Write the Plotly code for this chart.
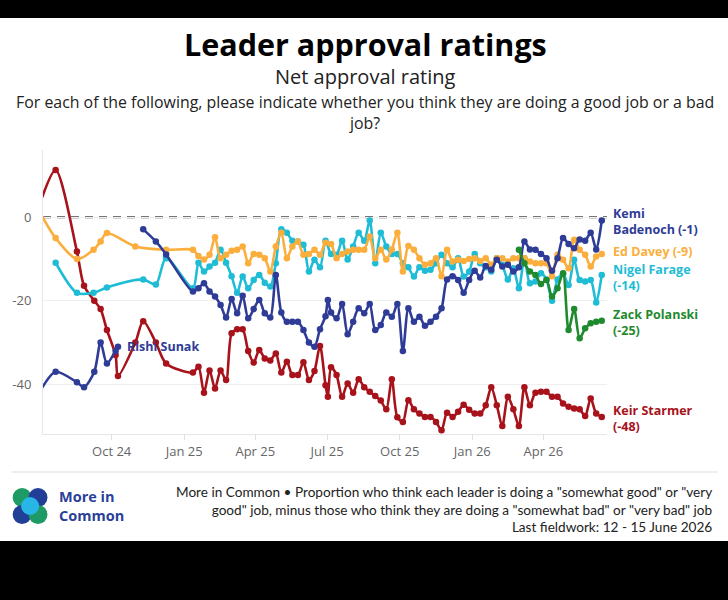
import plotly.graph_objects as go

# ---------------- data ----------------
weekly_dates = [
    "2025-01-12", "2025-01-19", "2025-01-26", "2025-02-02", "2025-02-09", "2025-02-16", "2025-02-23",
    "2025-03-02", "2025-03-09", "2025-03-16", "2025-03-23", "2025-03-30", "2025-04-06", "2025-04-13",
    "2025-04-20", "2025-04-27", "2025-05-04", "2025-05-11", "2025-05-18", "2025-05-25", "2025-06-01",
    "2025-06-08", "2025-06-15", "2025-06-22", "2025-06-29", "2025-07-06", "2025-07-13", "2025-07-20",
    "2025-07-27", "2025-08-03", "2025-08-10", "2025-08-17", "2025-08-24", "2025-08-31", "2025-09-07",
    "2025-09-14", "2025-09-21", "2025-09-28", "2025-10-05", "2025-10-12", "2025-10-19", "2025-10-26",
    "2025-11-02", "2025-11-09", "2025-11-16", "2025-11-23", "2025-11-30", "2025-12-07", "2025-12-14",
    "2025-12-21", "2025-12-28", "2026-01-04", "2026-01-11", "2026-01-18", "2026-01-25", "2026-02-01",
    "2026-02-08", "2026-02-15", "2026-02-22", "2026-03-01", "2026-03-08", "2026-03-15", "2026-03-22",
    "2026-03-29", "2026-04-05", "2026-04-12", "2026-04-19", "2026-04-26", "2026-05-03", "2026-05-10",
    "2026-05-17", "2026-05-24", "2026-05-31", "2026-06-07", "2026-06-14",
]

# Keir Starmer
starmer_early_dates = ["2024-07-05", "2024-07-22", "2024-08-18", "2024-08-27", "2024-09-09", "2024-09-17",
                       "2024-09-25", "2024-10-06", "2024-10-09", "2024-10-31", "2024-11-10", "2024-11-26",
                       "2024-12-09"]
starmer_early = [4.8, 11.3, -8.2, -16.4, -20.0, -22.0, -27.0, -33.0, -38.0, -30.0, -24.9, -30.0, -35.0]
starmer_weekly = [
    -37.2, -35.8, -42.0, -36.7, -41.0, -36.7, -39.0, -27.8, -26.8, -26.8,
    -32.0, -34.8, -31.8, -33.8, -34.3, -32.6, -37.2, -34.6, -37.8, -37.8,
    -34.7, -39.0, -36.8, -30.8, -40.2, -35.9, -37.8, -43.0, -39.8, -42.0,
    -38.8, -40.7, -41.8, -42.8, -43.9, -46.0, -38.8, -47.9, -49.0, -43.8,
    -46.0, -47.0, -47.8, -47.8, -49.0, -51.0, -46.8, -47.8, -46.6, -44.9,
    -46.1, -47.0, -47.0, -45.0, -40.7, -45.0, -50.0, -43.0, -46.0, -50.0,
    -40.7, -45.0, -42.0, -41.8, -41.8, -43.0, -43.0, -44.6, -45.4, -45.8,
    -46.0, -47.6, -43.4, -47.0, -47.8,
]
starmer_extra_dates = ["2025-07-02"]
starmer_extra = [-43.0]

# Rishi Sunak
sunak_dates = ["2024-07-05", "2024-07-22", "2024-08-18", "2024-08-27", "2024-09-09", "2024-09-17",
               "2024-09-25", "2024-10-06", "2024-10-09"]
sunak = [-40.8, -37.0, -39.5, -40.7, -37.0, -30.0, -35.0, -32.0, -31.0]

# Kemi Badenoch
badenoch_early_dates = ["2024-11-10", "2024-11-26", "2024-12-09"]
badenoch_early = [-2.9, -5.8, -8.9]
badenoch_weekly = [
    -17.8, -17.0, -15.8, -17.8, -19.0, -21.0, -24.0, -19.6, -23.0, -18.8,
    -24.2, -22.0, -19.8, -23.0, -24.0, -13.8, -22.8, -25.0, -25.0, -25.0,
    -27.0, -30.0, -31.0, -26.8, -23.7, -22.8, -24.2, -20.8, -28.0, -25.0,
    -21.8, -23.0, -20.8, -27.0, -25.8, -22.8, -23.8, -20.8, -32.0, -21.8,
    -25.0, -23.8, -26.0, -25.0, -23.8, -21.8, -14.9, -14.1, -15.0, -18.1,
    -15.0, -12.8, -14.4, -11.7, -12.6, -10.2, -11.8, -11.4, -13.0, -12.0,
    -5.8, -7.7, -7.8, -8.8, -9.8, -12.8, -9.8, -5.0, -6.4, -7.4,
    -5.3, -5.6, -3.7, -7.7, -0.8,
]
badenoch_extra_dates = ["2025-07-02"]
badenoch_extra = [-19.8]

# Ed Davey
davey_early_dates = ["2024-07-05", "2024-07-22", "2024-08-18", "2024-09-08", "2024-09-17", "2024-09-25",
                     "2024-10-31", "2024-12-09"]
davey_early = [0.2, -5.0, -10.0, -7.8, -5.8, -3.8, -7.0, -7.8]
davey_weekly = [
    -7.8, -9.3, -10.1, -9.0, -4.8, -9.8, -9.0, -8.0, -7.8, -7.0,
    -11.0, -8.8, -9.0, -9.8, -13.0, -7.0, -3.7, -9.8, -7.0, -5.8,
    -9.0, -8.8, -7.8, -9.0, -6.1, -6.4, -9.8, -8.8, -8.2, -7.8,
    -7.8, -7.8, -4.6, -9.8, -7.8, -10.1, -7.7, -3.7, -13.0, -6.9,
    -7.8, -9.8, -11.4, -11.0, -9.8, -14.1, -7.8, -10.6, -10.2, -10.5,
    -10.0, -9.8, -10.5, -9.8, -11.4, -9.8, -9.8, -10.6, -9.8, -9.8,
    -9.8, -10.6, -11.0, -11.0, -11.0, -14.1, -9.0, -10.2, -12.2, -5.4,
    -7.8, -9.0, -11.8, -9.4, -8.8,
]

# Nigel Farage
farage_early_dates = ["2024-07-22", "2024-08-18", "2024-09-08", "2024-09-25", "2024-11-10", "2024-11-26",
                      "2024-12-09"]
farage_early = [-10.9, -18.1, -18.1, -16.8, -14.9, -16.1, -9.8]
farage_weekly = [
    -17.0, -10.9, -13.0, -11.8, -10.9, -7.8, -10.9, -14.1, -18.1, -14.2,
    -17.0, -15.0, -13.8, -15.7, -16.6, -11.0, -2.9, -3.7, -5.6, -5.8,
    -6.6, -13.0, -10.2, -12.0, -5.6, -8.8, -9.0, -5.6, -10.1, -7.0,
    -3.7, -5.6, -0.8, -11.0, -3.7, -7.0, -8.8, -8.8, -11.0, -12.0,
    -14.2, -12.0, -12.8, -12.6, -11.0, -9.0, -11.0, -12.0, -9.8, -14.2,
    -13.0, -8.8, -11.0, -12.0, -13.0, -9.8, -11.4, -14.9, -12.2, -17.0,
    -9.8, -15.8, -15.4, -13.4, -14.9, -20.0, -14.9, -13.6, -16.2, -10.2,
    -15.0, -15.4, -15.0, -20.4, -13.8,
]

# Zack Polanski
polanski_dates = ["2026-03-01", "2026-03-08", "2026-03-15", "2026-03-22", "2026-03-29", "2026-04-05",
                  "2026-04-12", "2026-04-19", "2026-04-26", "2026-05-03", "2026-05-10", "2026-05-17",
                  "2026-05-24", "2026-05-31", "2026-06-07", "2026-06-14"]
polanski = [-7.8, -11.0, -13.0, -13.8, -16.0, -15.0, -19.0, -17.0, -13.4, -27.0, -22.0, -29.0,
            -26.6, -25.4, -25.0, -24.8]

# ---------------- styling ----------------
RED = "#A8121B"
NAVY = "#2E3C97"
ORANGE = "#FBAE3C"
CYAN = "#1FBCD6"
GREEN = "#1F8A2E"
FONT = "Open Sans"
FOOT_FONT = "Lato"

W, H = 728, 600
ML, MR, MT, MB = 40, 121, 150, 166
PW, PH = W - ML - MR, H - MT - MB


def px(x):
    return (x - ML) / PW


def py(y):
    return (H - MB - y) / PH


def merge(d1, v1, d2=(), v2=()):
    pts = sorted(list(zip(d1, v1)) + list(zip(d2, v2)), key=lambda p: p[0])
    return [p[0] for p in pts], [p[1] for p in pts]


fig = go.Figure()


def add(dates, vals, color):
    fig.add_trace(go.Scatter(
        x=dates, y=vals, mode="lines+markers",
        line=dict(color=color, width=2.6, shape="spline", smoothing=0.8),
        marker=dict(color=color, size=6.5),
        cliponaxis=False, hoverinfo="skip", showlegend=False,
    ))


d, v = merge(starmer_early_dates + weekly_dates, starmer_early + starmer_weekly,
             starmer_extra_dates, starmer_extra)
add(d, v, RED)
add(sunak_dates, sunak, NAVY)
d, v = merge(farage_early_dates + weekly_dates, farage_early + farage_weekly)
add(d, v, CYAN)
d, v = merge(davey_early_dates + weekly_dates, davey_early + davey_weekly)
add(d, v, ORANGE)
d, v = merge(badenoch_early_dates + weekly_dates, badenoch_early + badenoch_weekly,
             badenoch_extra_dates, badenoch_extra)
add(d, v, NAVY)
add(polanski_dates, polanski, GREEN)

shapes = []
# zero line
shapes.append(dict(type="line", xref="paper", x0=0, x1=1, yref="y", y0=0, y1=0,
                   line=dict(color="#4a4a4a", width=2.2, dash="8px,6px"), layer="below"))
# black bands top / bottom
shapes.append(dict(type="rect", xref="paper", yref="paper", x0=px(-5), x1=px(W + 5),
                   y0=py(18), y1=py(-5), fillcolor="black", line=dict(width=0)))
shapes.append(dict(type="rect", xref="paper", yref="paper", x0=px(-5), x1=px(W + 5),
                   y0=py(H + 5), y1=py(541), fillcolor="black", line=dict(width=0)))
# footer separator
shapes.append(dict(type="line", xref="paper", yref="paper", x0=px(8), x1=px(718),
                   y0=py(472), y1=py(472), line=dict(color="#dddddd", width=1)))


# logo circles
def circle(cx, cy, r, color):
    return dict(type="circle", xref="paper", yref="paper",
                x0=px(cx - r), x1=px(cx + r), y0=py(cy + r), y1=py(cy - r),
                fillcolor=color, line=dict(width=0))


shapes += [
    circle(19.0, 497.5, 9.5, "#1E9B64"),
    circle(35.0, 497.5, 9.5, "#213F97"),
    circle(19.0, 514.5, 9.5, "#213F97"),
    circle(35.0, 514.5, 9.5, "#1E9B64"),
    circle(27.0, 506, 9.0, "#27B6E6"),
]

ann = []


def text(x, y, s, size, color="#111", xanchor="left", align="left", bold=False, family=FONT):
    ann.append(dict(xref="paper", yref="paper", x=px(x), y=py(y), text=("<b>%s</b>" % s) if bold else s,
                    showarrow=False, xanchor=xanchor, yanchor="middle", align=align,
                    font=dict(family=family, size=size, color=color)))


text(364, 43.5, "Leader approval ratings", 30.5, "#000", "center", "center", True)
text(364, 76.5, "Net approval rating", 20, "#222", "center", "center")
text(364, 112.5, "For each of the following, please indicate whether you think they are doing a good job or a bad<br>job?",
     15.9, "#222", "center", "center")

# series labels
LBL = 12.5
text(611, 221.5, "Kemi<br>Badenoch (-1)", LBL, NAVY, bold=True)
text(611, 251.5, "Ed Davey (-9)", LBL, ORANGE, bold=True)
text(611, 277.5, "Nigel Farage<br>(-14)", LBL, CYAN, bold=True)
text(611, 322, "Zack Polanski<br>(-25)", LBL, GREEN, bold=True)
text(611, 418, "Keir Starmer<br>(-48)", LBL, RED, bold=True)
text(122, 346.5, "Rishi Sunak", LBL, NAVY, bold=True)

# footer
text(716, 509.5,
     "More in Common \u2022 Proportion who think each leader is doing a \"somewhat good\" or \"very<br>"
     "good\" job, minus those who think they are doing a \"somewhat bad\" or \"very bad\" job<br>"
     "Last fieldwork: 12 - 15 June 2026", 13.6, "#222", "right", "right", family=FOOT_FONT)
text(54, 506, "More in<br>Common", 14.5, "#2B3F98", bold=True)

fig.update_layout(
    width=W, height=H, margin=dict(l=ML, r=MR, t=MT, b=MB),
    paper_bgcolor="white", plot_bgcolor="white",
    font=dict(family=FONT),
    shapes=shapes, annotations=ann, showlegend=False,
    xaxis=dict(type="date", range=["2024-07-06", "2026-06-20 16:00"],
               tick0="2024-10-01", dtick="M3", tickformat="%b %y",
               ticks="outside", ticklen=5, tickcolor="#e0e0e0",
               showline=True, linecolor="#e6e6e6", linewidth=1,
               showgrid=False, zeroline=False,
               tickfont=dict(family=FONT, size=13, color="#666")),
    yaxis=dict(range=[-51.9, 16.1], tickvals=[0, -20, -40], ticktext=["0", "-20", "-40"],
               showgrid=True, gridcolor="#efefef", zeroline=False,
               showline=True, linecolor="#e6e6e6", linewidth=1,
               ticks="", ticklabelstandoff=8,
               tickfont=dict(family=FONT, size=13, color="#666")),
)

fig.write_html("out.html")
